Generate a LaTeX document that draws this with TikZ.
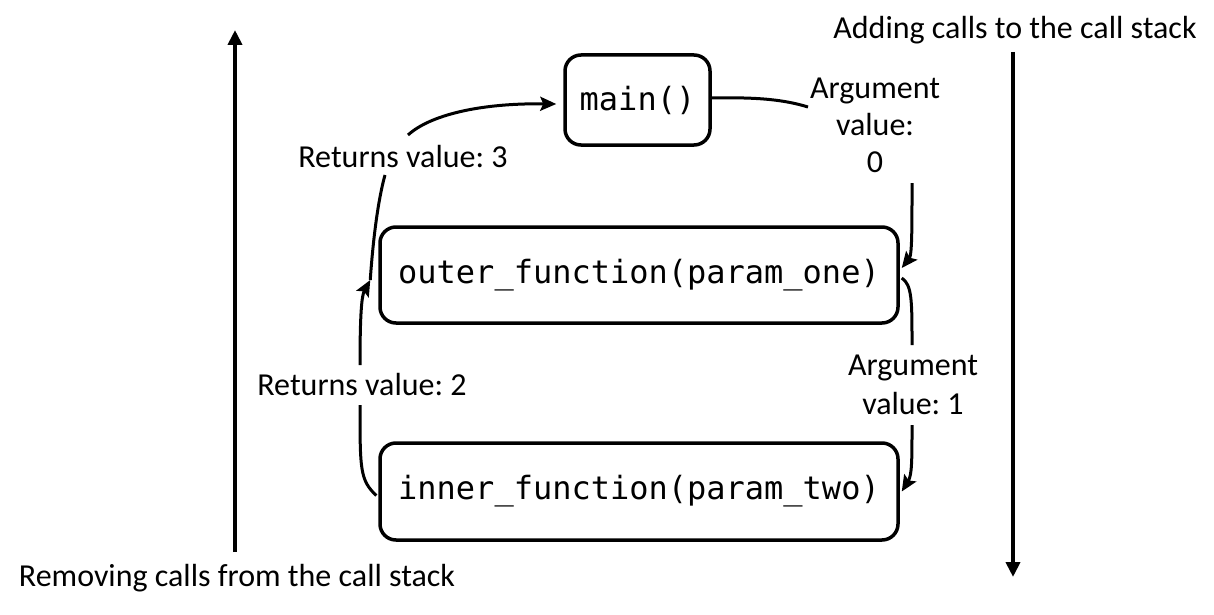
\documentclass[tikz,border=0pt]{standalone}
\usepackage{fontspec}
\setmainfont{Carlito}
\newfontfamily\codefont{DejaVu Sans Mono}
\usetikzlibrary{arrows.meta}
\frenchspacing
\begin{document}
\begin{tikzpicture}[x=1pt,y=-1pt,
  box/.style={draw, line width=3.5pt, rounded corners=16pt, font=\codefont\fontsize{32}{38}\selectfont, inner sep=0pt},
  lbl/.style={font=\fontsize{32}{37}\selectfont, align=center, inner sep=0pt},
  conn/.style={line width=3pt},
  tip/.style={-{Stealth[length=16pt,width=14pt,inset=3pt]}},
  stack/.style={line width=4pt, -{Triangle[length=15pt,width=14pt]}}]
\useasboundingbox (0,0) rectangle (1214,615);

% boxes
\node[box, minimum width=145pt, minimum height=90pt] (main) at (637.5,100) {main()};
\node[box, minimum width=518pt, minimum height=96pt] (outer) at (639,275) {outer\_function(param\_one)};
\node[box, minimum width=518pt, minimum height=97pt] (inner) at (639,491.5) {inner\_function(param\_two)};

% labels
\node[lbl] (argA) at (875,125) {Argument\\value:\\0};
\node[lbl, font=\fontsize{32}{39}\selectfont] (argB) at (913,385) {Argument\\value: 1};
\node[lbl] (retA) at (403,157) {Returns value: 3};
\node[lbl] (retB) at (362,385) {Returns value: 2};
\node[lbl] (add) at (1015,30) {Adding calls to the call stack};
\node[lbl] (rem) at (237,578) {Removing calls from the call stack};

% stack arrows
\coordinate (lb) at (235,552);
\coordinate (lt) at (235,30);
\coordinate (rt) at (1013,52);
\coordinate (rb) at (1013,577);
\draw[stack] (lb) -- (lt);
\draw[stack] (rt) -- (rb);

% free ends at labels
\coordinate (a0in) at (808,107);
\coordinate (a0out) at (912,183);
\coordinate (a1in) at (912,345);
\coordinate (a1out) at (912,425);
\coordinate (r2in) at (360,405);
\coordinate (r2out) at (360,365);
\coordinate (r3in) at (385,175);
\coordinate (r3out) at (408,135);

% calls
\draw[conn] ([yshift=2pt]main.east) .. controls (760,97) and (785,100) .. (a0in);
\draw[conn,tip] (a0out) .. controls (912,230) and (912,255) .. ([yshift=7pt,xshift=2pt]outer.east);
\draw[conn] ([yshift=-3pt,xshift=2pt]outer.east) .. controls (912,285) and (912,300) .. (a1in);
\draw[conn,tip] (a1out) .. controls (912,460) and (912,475) .. ([xshift=2pt]inner.east);

% returns
\draw[conn] ([yshift=-4pt,xshift=-2pt]inner.west) .. controls (360,480) and (360,470) .. (r2in);
\draw[conn,tip] (r2out) .. controls (360,310) and (362,295) .. ([yshift=-5pt,xshift=-8pt]outer.west);
\draw[conn] ([yshift=-5pt,xshift=-8pt]outer.west) .. controls (373,240) and (378,200) .. (r3in);
\draw[conn,tip] (r3out) .. controls (430,115) and (480,103) .. ([yshift=-4pt,xshift=-7pt]main.west);
\end{tikzpicture}
\end{document}
